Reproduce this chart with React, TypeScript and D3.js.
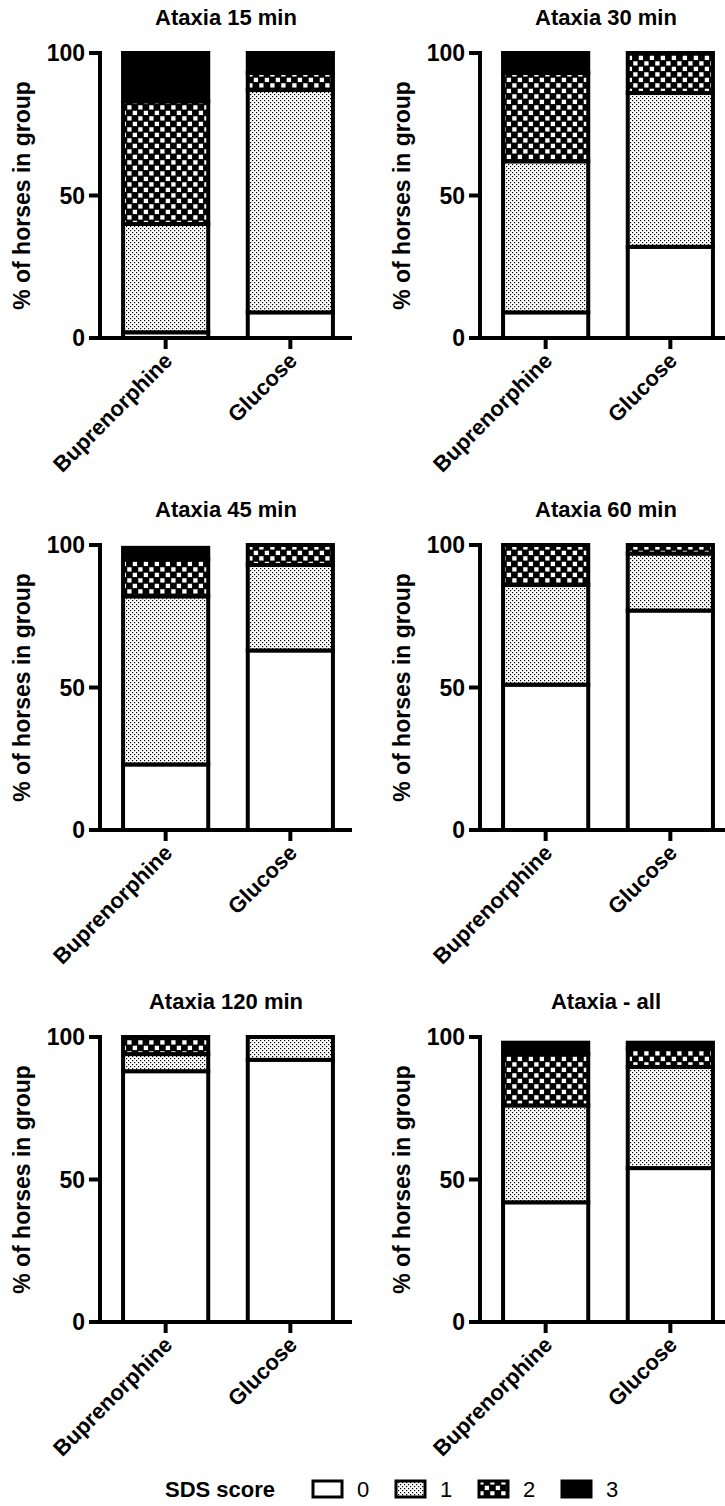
import React from 'react';
import * as d3 from 'd3';

const groups = ['Buprenorphine', 'Glucose'];
const panelTitles = ['Ataxia 15 min', 'Ataxia 30 min', 'Ataxia 45 min', 'Ataxia 60 min', 'Ataxia 120 min', 'Ataxia - all'];
const scoreKeys = ['0', '1', '2', '3'];
const yTicks = [0, 50, 100];
// per panel: [Buprenorphine, Glucose]
const score0 = [[2, 9], [9, 32], [23, 63], [51, 77], [88, 92], [42, 54]];
const score1 = [[38, 78], [53, 54], [59, 30], [35, 20], [6, 8], [34, 35.5]];
const score2 = [[43, 6], [31, 14], [13, 7], [14, 3], [6, 0], [18, 6.5]];
const score3 = [[17, 7], [7, 0], [4, 0], [0, 0], [0, 0], [4, 2]];
const legendTitle = 'SDS score';
const yLabel = '% of horses in group';

const FONT = '"Liberation Sans", Arial, sans-serif';
const fills = ['#ffffff', 'url(#dots)', 'url(#checker)', '#000000'];

const colX = [100, 480];
const rowTop = [53, 545, 1037];
const plotH = 285;
const plotW = 252;

function Panel({ idx }: { idx: number }) {
  const x0 = colX[idx % 2];
  const top = rowTop[Math.floor(idx / 2)];
  const bottom = top + plotH;
  const y = d3.scaleLinear().domain([0, 100]).range([bottom, top]);
  const x = d3.scaleBand<string>().domain(groups).range([x0, x0 + 256]).paddingInner(0.317).paddingOuter(0.185);
  const rows = groups.map((g, gi) => ({
    group: g,
    '0': score0[idx][gi],
    '1': score1[idx][gi],
    '2': score2[idx][gi],
    '3': score3[idx][gi],
  }));
  const series = d3.stack<any>().keys(scoreKeys)(rows);
  const bw = x.bandwidth();
  return (
    <g>
      <text x={x0 + 126} y={top - 28} textAnchor="middle" fontFamily={FONT} fontWeight="bold" fontSize={22}>
        {panelTitles[idx]}
      </text>
      {series.map((s, si) =>
        s.map((d, di) => {
          if (d[1] - d[0] <= 0) return null;
          const gx = x(groups[di])!;
          return (
            <rect
              key={`${si}-${di}`}
              x={gx}
              y={y(d[1])}
              width={bw}
              height={y(d[0]) - y(d[1])}
              fill={fills[si]}
              stroke="#000"
              strokeWidth={4}
            />
          );
        })
      )}
      <line x1={x0} x2={x0} y1={bottom + 2} y2={top - 2} stroke="#000" strokeWidth={4} />
      <line x1={x0 - 2} x2={x0 + plotW} y1={bottom} y2={bottom} stroke="#000" strokeWidth={4} />
      {yTicks.map((t) => (
        <g key={t}>
          <line x1={x0 - 11} x2={x0} y1={y(t)} y2={y(t)} stroke="#000" strokeWidth={4} />
          <text x={x0 - 15} y={y(t)} dy="0.36em" textAnchor="end" fontFamily={FONT} fontWeight="bold" fontSize={23}>
            {t}
          </text>
        </g>
      ))}
      {groups.map((g) => {
        const cx = x(g)! + bw / 2;
        return (
          <g key={g}>
            <line x1={cx} x2={cx} y1={bottom} y2={bottom + 11} stroke="#000" strokeWidth={4} />
            <text
              transform={`translate(${cx + 8},${bottom + 24}) rotate(-45)`}
              textAnchor="end"
              fontFamily={FONT}
              fontWeight="bold"
              fontSize={22}
            >
              {g}
            </text>
          </g>
        );
      })}
      <text
        transform={`translate(${x0 - 78},${(top + bottom) / 2}) rotate(-90)`}
        textAnchor="middle"
        dy="0.35em"
        fontFamily={FONT}
        fontWeight="bold"
        fontSize={23}
      >
        {yLabel}
      </text>
    </g>
  );
}

export default function App() {
  const legendX = d3.scaleLinear().domain([0, 1]).range([313, 396]);
  return (
    <svg width={725} height={1506} style={{ position: 'absolute', left: 0, top: 0, background: '#fff' }}>
      <defs>
        <pattern id="dots" patternUnits="userSpaceOnUse" width={4} height={4}>
          <rect width={4} height={4} fill="#fff" />
          <rect x={0} y={0} width={1.2} height={1.2} fill="#000" />
          <rect x={2} y={2} width={1.2} height={1.2} fill="#000" />
        </pattern>
        <pattern id="checker" patternUnits="userSpaceOnUse" width={11} height={11}>
          <rect width={11} height={11} fill="#000" />
          <rect x={0.75} y={0.75} width={4.3} height={4.3} fill="#fff" />
          <rect x={6.25} y={6.25} width={4.3} height={4.3} fill="#fff" />
        </pattern>
      </defs>
      <rect width={725} height={1506} fill="#fff" />
      {panelTitles.map((_, i) => (
        <Panel key={i} idx={i} />
      ))}
      <text x={165} y={1497} fontFamily={FONT} fontWeight="bold" fontSize={22}>
        {legendTitle}
      </text>
      {scoreKeys.map((k, i) => (
        <g key={k}>
          <rect x={legendX(i)} y={1481} width={29} height={16} fill={fills[i]} stroke="#000" strokeWidth={3} />
          <text x={legendX(i) + 44} y={1497} fontFamily={FONT} fontSize={22}>
            {k}
          </text>
        </g>
      ))}
    </svg>
  );
}
